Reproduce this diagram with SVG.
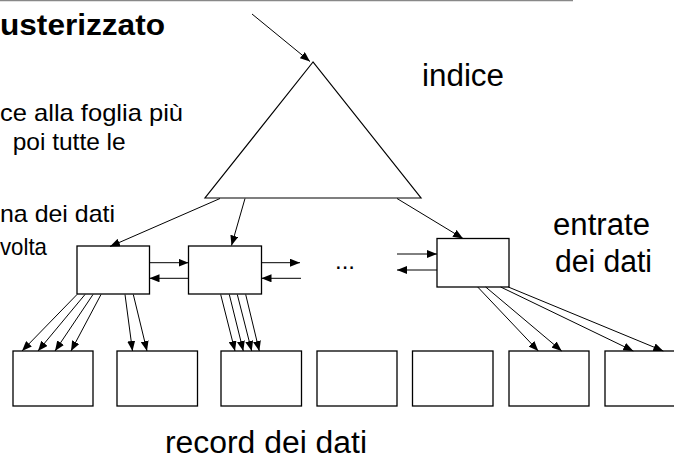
<svg xmlns="http://www.w3.org/2000/svg" width="674" height="459" viewBox="0 0 674 459">
<style>
.bx{fill:#fff;stroke:#000;stroke-width:1.3}
.c{stroke:#000;stroke-width:1;fill:none;marker-end:url(#ah)}
.t{font-family:"Liberation Sans",Arial,sans-serif;fill:#000}
.b{font-size:24px}
.L{font-size:31px}
</style>
<defs>
<marker id="ah" markerUnits="userSpaceOnUse" markerWidth="10" markerHeight="8" refX="10" refY="4" orient="auto">
<path d="M0,0 L10,4 L0,8 z" fill="#000"/>
</marker>
</defs>
<rect width="674" height="459" fill="#fff"/>
<line x1="0" y1="0.5" x2="573" y2="0.5" stroke="#888" stroke-width="1.5"/>
<g id="texts">
<text class="t" x="0" y="35" font-size="30" font-weight="bold" textLength="165" lengthAdjust="spacingAndGlyphs">usterizzato</text>
<text class="t b" x="0" y="121" textLength="183" lengthAdjust="spacingAndGlyphs">ce alla foglia più</text>
<text class="t b" x="12.7" y="150" textLength="113" lengthAdjust="spacingAndGlyphs">poi tutte le</text>
<text class="t b" x="0" y="222" textLength="115" lengthAdjust="spacingAndGlyphs">na dei dati</text>
<text class="t b" x="0" y="255" textLength="47" lengthAdjust="spacingAndGlyphs">volta</text>
<text class="t L" x="422" y="86" textLength="82" lengthAdjust="spacingAndGlyphs">indice</text>
<text class="t L" x="553" y="235" textLength="97" lengthAdjust="spacingAndGlyphs">entrate</text>
<text class="t L" x="555" y="271.5" textLength="97" lengthAdjust="spacingAndGlyphs">dei dati</text>
<text class="t L" x="165" y="453" textLength="202" lengthAdjust="spacingAndGlyphs">record dei dati</text>
<text class="t b" x="335" y="269">...</text>
</g>
<g id="index">
<polygon points="313,62 205,198 421,198" fill="#fff" stroke="#000" stroke-width="1.2"/>
</g>
<g id="leaf1"><rect class="bx" x="77" y="246" width="72.5" height="48"/></g>
<g id="leaf2"><rect class="bx" x="188.5" y="246" width="73" height="48"/></g>
<g id="leaf3"><rect class="bx" x="437" y="238.5" width="72" height="48.5"/></g>
<g id="rec1"><rect class="bx" x="13" y="351" width="80" height="55"/></g>
<g id="rec2"><rect class="bx" x="117" y="351" width="80.5" height="55"/></g>
<g id="rec3"><rect class="bx" x="221" y="351" width="80.5" height="55"/></g>
<g id="rec4"><rect class="bx" x="317" y="351" width="80" height="55"/></g>
<g id="rec5"><rect class="bx" x="412.5" y="351" width="80.5" height="55"/></g>
<g id="rec6"><rect class="bx" x="509" y="351" width="80" height="55"/></g>
<g id="rec7"><rect class="bx" x="605" y="351" width="80" height="55"/></g>
<g id="connectors">
<line class="c" x1="252" y1="14" x2="310" y2="61.5"/>
<line class="c" x1="220" y1="198.5" x2="110" y2="246.5"/>
<line class="c" x1="245" y1="198.5" x2="231.5" y2="245.5"/>
<line class="c" x1="397" y1="198.5" x2="463" y2="238.5"/>
<line class="c" x1="149.5" y1="262.7" x2="188.5" y2="262.7"/>
<line class="c" x1="188.5" y1="278.3" x2="149.5" y2="278.3"/>
<line class="c" x1="261.5" y1="262.7" x2="300" y2="262.7"/>
<line class="c" x1="301" y1="278.3" x2="261.5" y2="278.3"/>
<line class="c" x1="397" y1="254" x2="437" y2="254"/>
<line class="c" x1="437" y1="270" x2="397" y2="270"/>
<line class="c" x1="77" y1="294.5" x2="22" y2="351"/>
<line class="c" x1="85" y1="294.5" x2="38" y2="351"/>
<line class="c" x1="93" y1="294.5" x2="55" y2="351"/>
<line class="c" x1="101" y1="294.5" x2="71" y2="351"/>
<line class="c" x1="125" y1="294.5" x2="132.5" y2="351"/>
<line class="c" x1="133.3" y1="294.5" x2="147" y2="351"/>
<line class="c" x1="220.7" y1="294.5" x2="235" y2="351"/>
<line class="c" x1="229.3" y1="294.5" x2="243.3" y2="351"/>
<line class="c" x1="237.3" y1="294.5" x2="251.7" y2="351"/>
<line class="c" x1="245.7" y1="294.5" x2="259.3" y2="351"/>
<line class="c" x1="477.7" y1="287" x2="538.3" y2="351"/>
<line class="c" x1="485.7" y1="287" x2="561.7" y2="351"/>
<line class="c" x1="500.7" y1="287" x2="633.3" y2="351"/>
<line class="c" x1="508.3" y1="287" x2="663.3" y2="351"/>
</g>
</svg>
